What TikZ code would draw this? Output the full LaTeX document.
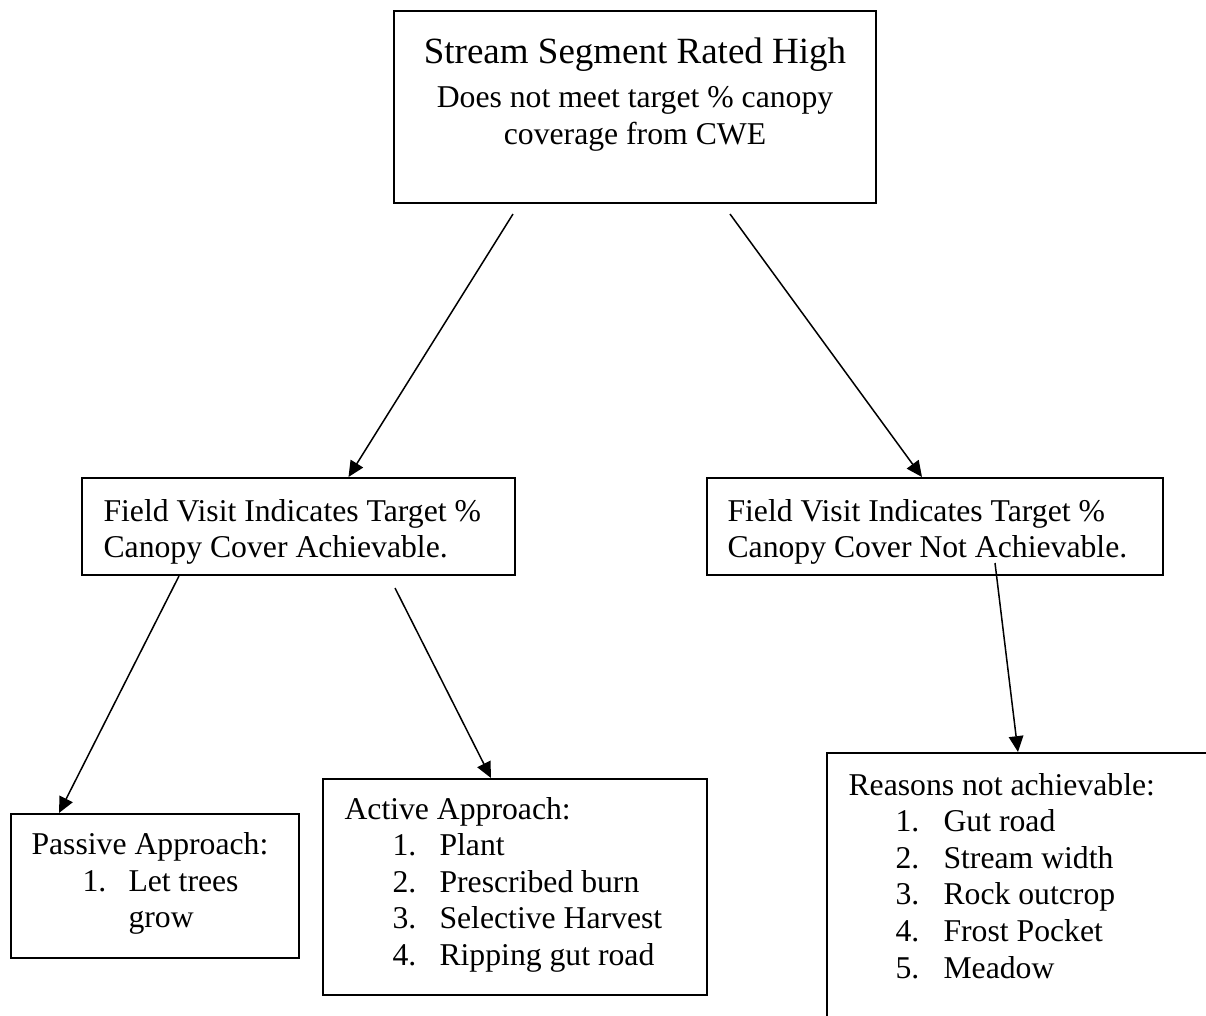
\documentclass[tikz,border=0pt]{standalone}
\usepackage{fontspec}
\setmainfont{Liberation Serif}
\usetikzlibrary{arrows.meta,fit}

\begin{document}
\begin{tikzpicture}[x=0.3785pt,y=-0.3785pt,
    box/.style={draw,line width=0.76pt,inner sep=0pt},
    txt/.style={anchor=base west,inner sep=0pt,font=\fontsize{12}{13.8}\selectfont},
    head/.style={anchor=base,inner sep=0pt,font=\fontsize{12}{13.8}\selectfont},
    link/.style={-{Triangle[length=6pt,width=5.5pt]},line width=0.57pt}]
        \useasboundingbox (0,0) rectangle (1206,1015);
        \clip (0,0) rectangle (1206,1015);
        % boxes, given by their corners in pixels
        \node[box,fit={(394,11) (876,203)}] (top) {};
        \node[box,fit={(82,478) (515,575)}] (fvA) {};
        \node[box,fit={(707,478) (1163,575)}] (fvN) {};
        \node[box,fit={(11,814) (299,958)}] (passive) {};
        \node[box,fit={(323,779) (707,995)}] (active) {};
        % reasons box runs off the page to the right and bottom
        \node[box,fit={(827,753) (1240,1050)}] (reasons) {};
        % top box text
        \node[head,font=\fontsize{14}{16.1}\selectfont] (title) at (635,63) {Stream Segment Rated High};
        \node[head] (sub1) at (635,107) {Does not meet target \% canopy};
        \node[head] (sub2) at (635,144) {coverage from CWE};
        % field visit boxes
        \node[txt] (fvA1) at (103,521) {Field Visit Indicates Target \%};
        \node[txt] (fvA2) at (103,557) {Canopy Cover Achievable.};
        \node[txt] (fvN1) at (727,521) {Field Visit Indicates Target \%};
        \node[txt] (fvN2) at (727,557) {Canopy Cover Not Achievable.};
        % passive approach
        \node[txt] (pasH) at (31,854) {Passive Approach:};
        \node[txt] (pasN1) at (82,891) {1.};
        \node[txt] (pasT1) at (128,891) {Let trees};
        \node[txt] (pasT1b) at (128,927) {grow};
        % active approach, one line per item
        \node[txt] (actH) at (344,819) {Active Approach:};
        \foreach \item [count=\k] in {Plant,Prescribed burn,Selective Harvest,Ripping gut road} {
          \node[txt] (actN\k) at (392,819+36.5*\k) {\k.};
          \node[txt] (actT\k) at (439,819+36.5*\k) {\item};
        }
        % reasons not achievable
        \node[txt] (reaH) at (848,795) {Reasons not achievable:};
        \foreach \item [count=\k] in {Gut road,Stream width,Rock outcrop,Frost Pocket,Meadow} {
          \node[txt] (reaN\k) at (895,795+36.6*\k) {\k.};
          \node[txt] (reaT\k) at (943,795+36.6*\k) {\item};
        }
        % arrows, offsets from the box anchors in pixels
        \draw[link] ([shift={(-122,10)}]top.south) -- ([shift={(50,0)}]fvA.north);
        \draw[link] ([shift={(95,10)}]top.south) -- ([shift={(-13,0)}]fvN.north);
        \draw[link] ([shift={(-119.5,0)}]fvA.south) -- ([shift={(-96,0)}]passive.north);
        \draw[link] ([shift={(96.5,12)}]fvA.south) -- ([shift={(-24,0)}]active.north);
        % this one starts inside the box
        \draw[link] ([shift={(60,-13)}]fvN.south) -- ([shift={(-15.5,0)}]reasons.north);
      \end{tikzpicture}
\end{document}
